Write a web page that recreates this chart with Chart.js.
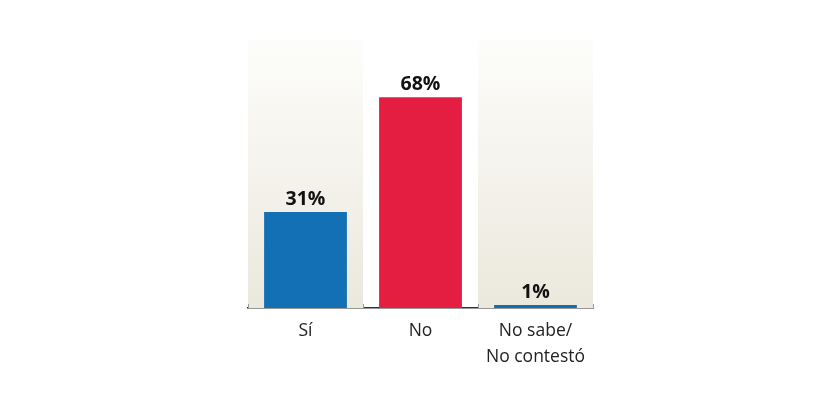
<!DOCTYPE html>
<html>
<head>
<meta charset="utf-8">
<script src="https://cdn.jsdelivr.net/npm/chart.js@4"></script>
<style>
  html, body { margin: 0; padding: 0; background: #fff; }
  #wrap { width: 840px; height: 404px; }
</style>
</head>
<body>
<div id="wrap"><canvas id="encuesta"></canvas></div>
<script>
// Data
const categories = [['Sí'], ['No'], ['No sabe/', 'No contestó']];
const values = [31, 68, 1];
const barColors = ['#1470b4', '#e31e40', '#1470b4'];
const shadedColumns = [0, 2];

// beige columns behind first and last bar, plus small ticks on the axis
const columnsPlugin = {
    id: 'columns',
    beforeDatasetsDraw(chart) {
        const ctx = chart.ctx;
        const area = chart.chartArea;
        const x = chart.scales.x;
        const half = (x.getPixelForValue(1) - x.getPixelForValue(0)) / 2;
        const grad = ctx.createLinearGradient(0, area.top, 0, area.bottom);
        grad.addColorStop(0, '#fdfdfb');
        grad.addColorStop(1, '#ebe8dc');
        ctx.save();
        ctx.fillStyle = grad;
        shadedColumns.forEach(function (i) {
            const c = x.getPixelForValue(i);
            ctx.fillRect(c - half, area.top, half * 2, area.bottom - area.top);
        });
        ctx.strokeStyle = '#999';
        ctx.lineWidth = 1;
        for (let i = 0; i <= categories.length; i++) {
            const px = Math.round(x.getPixelForValue(0) - half + i * half * 2) + 0.5;
            ctx.beginPath();
            ctx.moveTo(px, area.bottom - 4);
            ctx.lineTo(px, area.bottom);
            ctx.stroke();
        }
        ctx.restore();
    },
    afterDatasetsDraw(chart) {
        const ctx = chart.ctx;
        const meta = chart.getDatasetMeta(0);
        ctx.save();
        ctx.font = 'bold 19.5px "Open Sans"';
        ctx.fillStyle = '#111';
        ctx.textAlign = 'center';
        ctx.textBaseline = 'bottom';
        meta.data.forEach(function (bar, i) {
            ctx.fillText(values[i] + '%', bar.x, bar.y - 3);
        });
        ctx.restore();
    }
};

const ctx = document.getElementById('encuesta').getContext('2d');
const chart = new Chart(ctx, {
    type: 'bar',
    data: {
        labels: categories,
        datasets: [{
            data: values,
            backgroundColor: barColors,
            borderWidth: 0,
            categoryPercentage: 1,
            barPercentage: 0.72
        }]
    },
    options: {
        responsive: true,
        maintainAspectRatio: false,
        animation: false,
        layout: { padding: { left: 248, right: 247, top: 40, bottom: 0 } },
        plugins: {
            legend: { display: false },
            tooltip: { enabled: false }
        },
        scales: {
            x: {
                grid: { display: false, drawTicks: false },
                border: { display: true, color: '#333', width: 1.5 },
                ticks: {
                    color: '#222',
                    padding: 10,
                    font: { family: '"Open Sans"', size: 17.5, lineHeight: 1.5 }
                },
                afterFit(scale) { scale.height = 96; }
            },
            y: {
                display: false,
                min: 0,
                max: 86.5
            }
        }
    },
    plugins: [columnsPlugin]
});
</script>
</body>
</html>
